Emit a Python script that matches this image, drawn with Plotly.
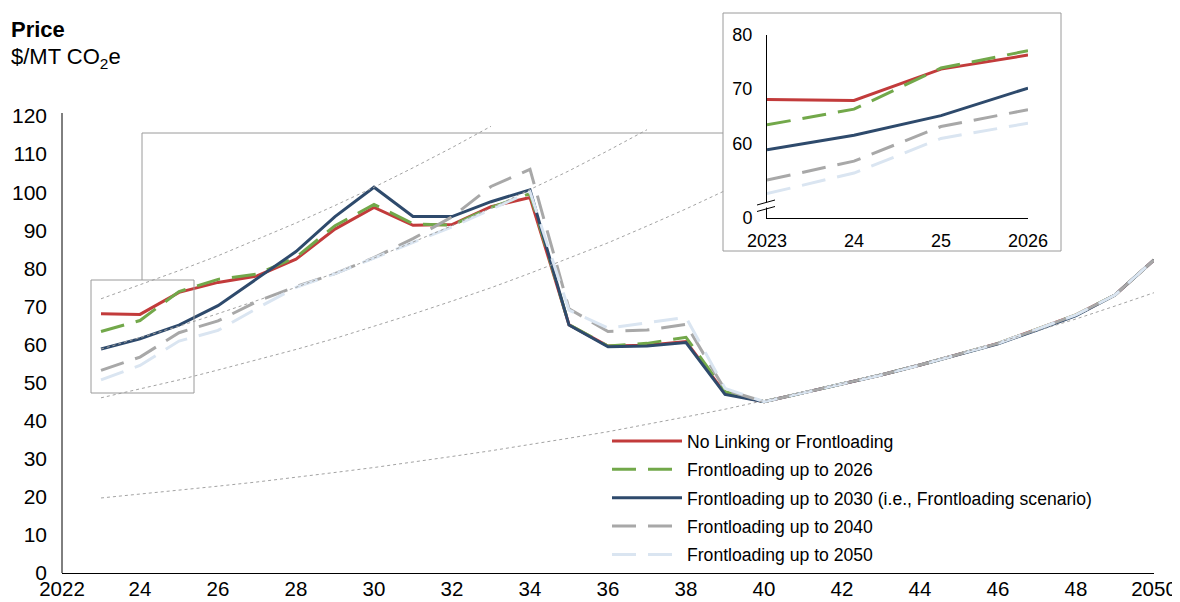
import plotly.graph_objects as go

# ---------------- data ----------------
YEARS = list(range(2023, 2051))

NAMES = [
    "No Linking or Frontloading",
    "Frontloading up to 2026",
    "Frontloading up to 2030 (i.e., Frontloading scenario)",
    "Frontloading up to 2040",
    "Frontloading up to 2050",
]

no_linking = [68.1, 67.9, 73.7, 76.3, 78.0, 82.4, 90.3, 96.0, 91.3, 91.5, 96.2, 98.6, 65.2, 59.6,
              59.8, 60.8, 47.2, 45.0, 47.3, 49.6, 52.0, 54.6, 57.4, 60.3, 64.0, 67.8, 73.0, 82.2]
front_2026 = [63.4, 66.3, 73.9, 77.1, 78.5, 82.9, 91.2, 96.8, 91.7, 91.3, 96.0, 99.6, 65.2, 59.6,
              60.3, 61.9, 47.6, 45.0, 47.3, 49.6, 52.0, 54.6, 57.4, 60.3, 64.0, 67.8, 73.0, 82.2]
front_2030 = [58.8, 61.5, 65.1, 70.2, 77.3, 84.4, 93.6, 101.3, 93.6, 93.6, 97.5, 100.6, 65.1, 59.4,
              59.6, 60.5, 46.9, 45.0, 47.3, 49.6, 52.0, 54.6, 57.4, 60.2, 63.8, 67.6, 73.0, 82.2]
front_2040 = [53.2, 56.7, 63.1, 66.2, 71.3, 75.2, 78.6, 82.8, 87.8, 93.5, 101.5, 106.0, 69.4, 63.4,
              63.8, 65.3, 48.1, 45.0, 47.3, 49.6, 52.0, 54.6, 57.4, 60.3, 64.0, 67.8, 73.0, 82.2]
front_2050 = [50.7, 54.5, 60.9, 63.7, 69.5, 75.0, 78.6, 82.7, 86.6, 90.9, 95.5, 100.1, 69.0, 64.3,
              65.7, 67.1, 48.5, 45.0, 47.3, 49.6, 52.0, 54.6, 57.4, 60.3, 64.0, 67.8, 73.0, 82.2]
SERIES = [no_linking, front_2026, front_2030, front_2040, front_2050]

# dotted reference trajectories
ref1_years = list(range(2023, 2034))
ref1 = [72.0, 75.6, 79.4, 83.3, 87.5, 91.9, 96.5, 101.3, 106.4, 111.7, 117.3]
ref2_years = list(range(2023, 2038))
ref2 = [58.8, 61.7, 64.8, 68.1, 71.5, 75.0, 78.8, 82.7, 86.9, 91.2, 95.8, 100.6, 105.6, 110.9, 116.4]
ref3_years = list(range(2023, 2040))
ref3 = [46.0, 48.3, 50.7, 53.3, 55.9, 58.7, 61.6, 64.7, 68.0, 71.4, 74.9, 78.7, 82.6, 86.7, 91.1,
        95.6, 100.4]
ref4_years = list(range(2023, 2051))
ref4 = [19.7, 20.7, 21.7, 22.8, 23.9, 25.1, 26.4, 27.7, 29.1, 30.6, 32.1, 33.7, 35.4, 37.1, 39.0,
        41.0, 43.0, 45.2, 47.4, 49.8, 52.3, 54.9, 57.6, 60.5, 63.6, 66.7, 70.1, 73.6]
REFS = [(ref1_years, ref1), (ref2_years, ref2), (ref3_years, ref3), (ref4_years, ref4)]

X_TICKS = list(range(2022, 2051, 2))
X_TICKTEXT = ["2022", "24", "26", "28", "30", "32", "34", "36", "38", "40", "42", "44", "46", "48", "2050"]
Y_TICKS = list(range(0, 121, 10))

INSET_N = 4  # 2023-2026
INSET_XTICKTEXT = ["2023", "24", "25", "2026"]
INSET_BREAK = 46.2
INSET_YTICKS = [INSET_BREAK, 60, 70, 80]
INSET_YTICKTEXT = ["0", "60", "70", "80"]

# ---------------- style ----------------
COLORS = ["#C23B3B", "#72A84A", "#2E4A6C", "#A8A8A8", "#DAE5F1"]
DASHES = ["solid", "24px,12px", "solid", "24px,12px", "24px,12px"]
REF_COLOR = "#A3A3A3"
FONT = "Liberation Sans, Arial, sans-serif"

# the page places the figure 8px from the top-left corner (default body margin)
OFF = 8
W, H = 1180 - OFF, 602 - OFF
# plot area in screen pixels
PL, PR, PT, PB = 62, 1154, 20, 573


def pxx(x):
    return (x - PL) / (PR - PL)


def pxy(y):
    return (PB - y) / (PB - PT)


Y_TOP = 120 * (PB - PT) / (PB - 116)

fig = go.Figure()

for i, (name, vals) in enumerate(zip(NAMES, SERIES)):
    fig.add_trace(go.Scatter(
        x=YEARS, y=vals, mode="lines", name=name,
        line=dict(color=COLORS[i], width=3, dash=DASHES[i]),
        legendgroup=f"g{i}", hoverinfo="skip",
    ))

for yrs, vals in REFS:
    fig.add_trace(go.Scatter(
        x=yrs, y=vals, mode="lines", showlegend=False,
        line=dict(color=REF_COLOR, width=1, dash="3px,3px"), hoverinfo="skip",
    ))

for i, vals in enumerate(SERIES):
    fig.add_trace(go.Scatter(
        x=YEARS[:INSET_N], y=vals[:INSET_N], mode="lines", showlegend=False,
        line=dict(color=COLORS[i], width=3, dash=DASHES[i]),
        xaxis="x2", yaxis="y2", hoverinfo="skip",
    ))

shapes = []
gray_line = dict(color="#9A9A9A", width=1)
# zoom box on the main chart
shapes.append(dict(type="rect", xref="paper", yref="paper",
                   x0=pxx(91), x1=pxx(194), y0=pxy(393), y1=pxy(280), line=gray_line))
# connector
shapes.append(dict(type="path", xref="paper", yref="paper",
                   path=f"M {pxx(142)} {pxy(280)} L {pxx(142)} {pxy(133)} L {pxx(723)} {pxy(133)}",
                   line=gray_line))
# inset frame
shapes.append(dict(type="rect", xref="paper", yref="paper", layer="below",
                   x0=pxx(723), x1=pxx(1061), y0=pxy(251), y1=pxy(13),
                   line=gray_line, fillcolor="white"))
# main y axis line
shapes.append(dict(type="line", xref="paper", yref="paper",
                   x0=0, x1=0, y0=0, y1=pxy(113), line=dict(color="black", width=1)))
# inset axis break marks
shapes.append(dict(type="line", xref="paper", yref="paper",
                   x0=pxx(767), x1=pxx(767), y0=pxy(207.5), y1=pxy(202.5),
                   line=dict(color="white", width=3)))
for dy in (0, 6.5):
    shapes.append(dict(type="line", xref="paper", yref="paper",
                       x0=pxx(757), x1=pxx(775), y0=pxy(205 + dy), y1=pxy(200 + dy),
                       line=dict(color="black", width=1)))

annotations = [
    dict(text="<b>Price</b>", xref="paper", yref="paper", x=pxx(9), y=pxy(30),
         xanchor="left", yanchor="middle", showarrow=False,
         font=dict(size=22, color="black", family=FONT)),
    dict(text="$/MT CO<sub>2</sub>e", xref="paper", yref="paper", x=pxx(9), y=pxy(58),
         xanchor="left", yanchor="middle", showarrow=False,
         font=dict(size=22, color="black", family=FONT)),
]

fig.update_layout(
    width=W, height=H,
    margin=dict(l=PL - OFF, r=W - (PR - OFF), t=PT - OFF, b=H - (PB - OFF), autoexpand=False),
    paper_bgcolor="white", plot_bgcolor="rgba(0,0,0,0)",
    font=dict(family=FONT, color="black"),
    shapes=shapes, annotations=annotations,
    showlegend=True,
    legend=dict(x=pxx(607), y=pxy(423), xanchor="left", yanchor="top",
                font=dict(size=17.6, color="black", family=FONT),
                bgcolor="rgba(0,0,0,0)", itemwidth=70,
                traceorder="grouped", tracegroupgap=2.5),
    xaxis=dict(range=[2022, 2050], tickvals=X_TICKS, ticktext=X_TICKTEXT,
               showgrid=False, zeroline=False, showline=True, linecolor="black", linewidth=1.3,
               ticks="", tickfont=dict(size=20.5, color="black"), ticklabelstandoff=-3,
               fixedrange=True, automargin=False),
    yaxis=dict(range=[0, Y_TOP], tickvals=Y_TICKS, showgrid=False, zeroline=False,
               showline=False, ticks="", tickfont=dict(size=21, color="black"),
               ticklabelstandoff=14, fixedrange=True, automargin=False),
    xaxis2=dict(domain=[pxx(767), pxx(1028)], anchor="y2", range=[2023, 2026],
                tickvals=YEARS[:INSET_N], ticktext=INSET_XTICKTEXT,
                showgrid=False, zeroline=False, showline=True, linecolor="black", linewidth=1,
                ticks="", tickfont=dict(size=18, color="black"), ticklabelstandoff=6,
                fixedrange=True, automargin=False),
    yaxis2=dict(domain=[pxy(218), pxy(35)], anchor="x2", range=[INSET_BREAK, 80],
                tickvals=INSET_YTICKS, ticktext=INSET_YTICKTEXT,
                showgrid=False, zeroline=False, showline=True, linecolor="black", linewidth=1,
                ticks="", tickfont=dict(size=18, color="black"), ticklabelstandoff=10,
                fixedrange=True, automargin=False),
)

fig.write_html("out.html")
